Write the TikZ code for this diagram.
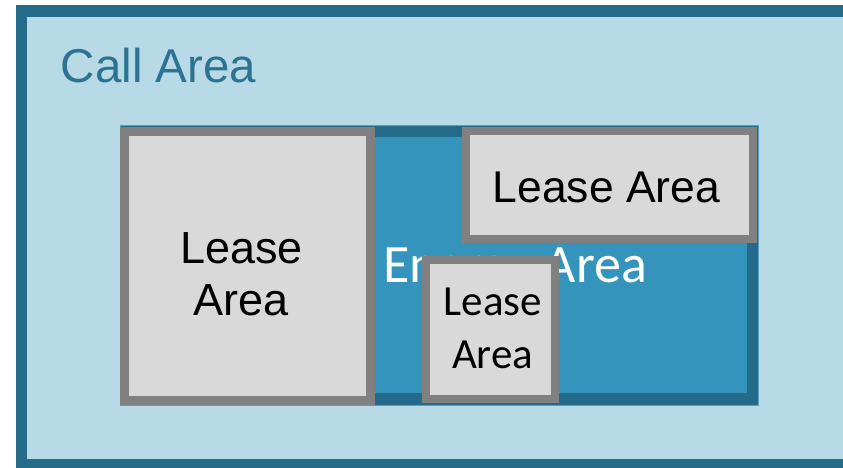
\documentclass[tikz,border=0pt]{standalone}
\usepackage{fontspec}
\setmainfont{Liberation Sans}
\newfontfamily\calib{Carlito}
\definecolor{calldark}{HTML}{246B89}
\definecolor{calllight}{HTML}{B8DAE6}
\definecolor{calltext}{HTML}{2C7393}
\definecolor{energymid}{HTML}{3594BB}
\definecolor{energyedge}{HTML}{5B9DBC}
\definecolor{leaseedge}{HTML}{808080}
\definecolor{leasefill}{HTML}{D9D9D9}
\begin{document}
\begin{tikzpicture}[x=1pt,y=-1pt,
  callbox/.style={fill=calllight,draw=calldark,line width=11.7pt},
  leasebox/.style={rectangle,draw=leaseedge,fill=leasefill,inner sep=0pt,outer sep=0pt},
  lbl/.style={inner sep=0pt,outer sep=0pt}]
\useasboundingbox (0,0) rectangle (843,468);
\clip (0,0) rectangle (843,468);
\fill[white] (0,0) rectangle (843,468);
% Call area
\draw[callbox] (21.4,10.8) rectangle (870,465);
\node[lbl,anchor=base west,text=calltext,font=\fontsize{47.5}{57}\selectfont] (calltitle) at (60.8,83) {Call Area};
% Energy area
\node[rectangle,inner sep=0pt,outer sep=0pt,fill=calldark,draw=energyedge,line width=1pt,
      minimum width=637.5pt,minimum height=280pt] (energy) at (439.25,265.7) {};
\fill[energymid] (131,137) rectangle (747,393.3);
\node[lbl,anchor=base west,text=white,font=\calib\fontsize{54}{65}\selectfont] (energytitle) at (383,282) {Energy Area};
% Lease areas
\node[leasebox,line width=9pt,minimum width=246pt,minimum height=269pt] (leaseA) at (247.5,266) {};
\node[lbl,align=center,font=\fontsize{45}{52}\selectfont] (leaseAtext) at (241.5,274.6) {Lease\\Area};
\node[leasebox,line width=8pt,minimum width=287.3pt,minimum height=107.7pt] (leaseB) at (609.35,185.15) {};
\node[lbl,font=\fontsize{44.5}{53}\selectfont] (leaseBtext) at (606.4,187) {Lease Area};
\node[leasebox,line width=8pt,minimum width=129pt,minimum height=139.6pt] (leaseC) at (490.8,329.5) {};
\node[lbl,align=center,font=\calib\fontsize{43}{53}\selectfont] (leaseCtext) at (492.7,328) {Lease\\Area};
\end{tikzpicture}
\end{document}
